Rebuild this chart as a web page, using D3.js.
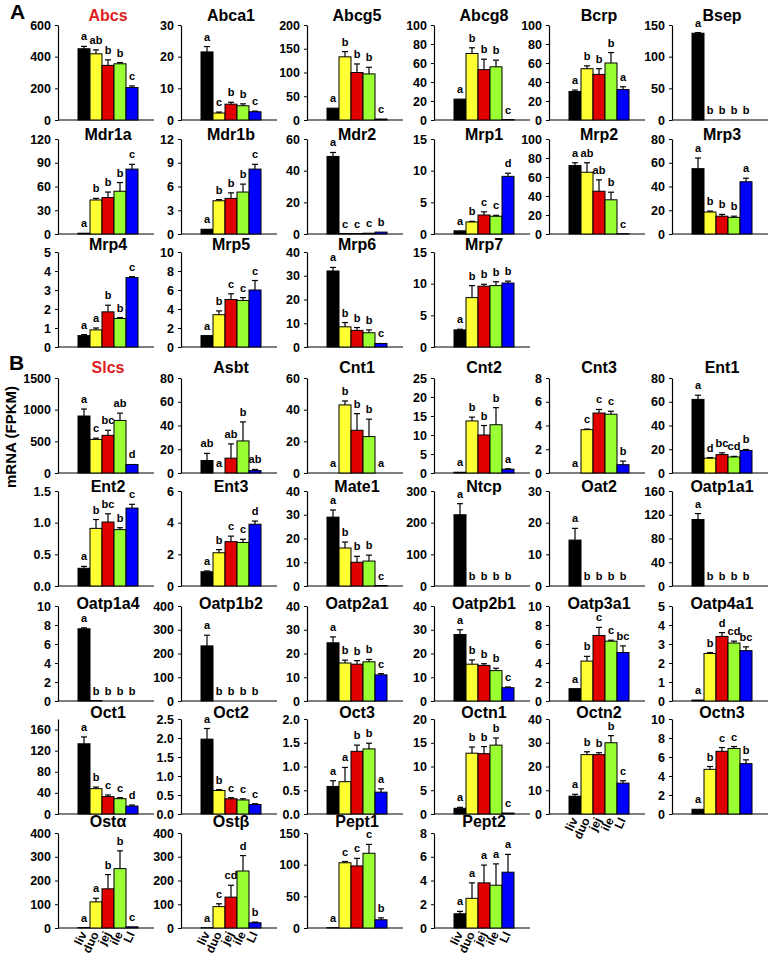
<!DOCTYPE html>
<html><head><meta charset="utf-8">
<script src="https://cdn.jsdelivr.net/npm/d3@7"></script>
<style>body{margin:0;background:#fff} text{font-family:"Liberation Sans",Arial,sans-serif;font-weight:bold}</style>
</head><body><svg id="c" width="774" height="963"></svg>
<script>
const tissues = ["liv","duo","jej","ile","LI"];
const colors = ["#000000","#ffff33","#e00000","#99ff33","#0000ff"];

// Section A: ABC transporters
const genesA = ["Abcs","Abca1","Abcg5","Abcg8","Bcrp","Bsep","Mdr1a","Mdr1b","Mdr2","Mrp1","Mrp2","Mrp3","Mrp4","Mrp5","Mrp6","Mrp7"];
const yMaxA  = [600,30,200,100,100,150,120,12,60,15,100,80,5,10,40,15];
const stepA  = [200,10,50,20,20,50,30,3,20,5,20,20,1,2,10,5];
const meanA = [
  [450,418,345,355,205],[21.5,2.2,5.0,4.5,2.6],[25,133,100,97,2],[22,70,53,56,0.5],
  [30,54,48,60,32],[137,0,0,0,0],[1,43,46,54,82],[0.6,4.2,4.5,5.3,8.2],
  [49,0.3,0.3,0.5,1.2],[0.5,1.9,3.0,2.8,9.1],[72,65,45,36,0.3],[55,18.5,15,14,44],
  [0.6,0.9,1.85,1.5,3.65],[1.2,3.4,5.0,4.9,6.0],[32,8.5,7,6,1.5],[2.7,7.8,9.6,9.7,10.1]];
const errA = [
  [15,25,35,8,10],[1.7,0.3,0.6,0.6,0.2],[0,11,18,14,0],[0,6,11,7,0],
  [1.5,3,6,11,3],[1,0,0,0,0],[0,2,7,11,6],[0,0.15,0.7,1.0,0.6],
  [2.5,0,0,0,0],[0,0.1,0.5,0.15,0.5],[3,10,12,8,0],[9,0.8,1.5,1,3],
  [0.05,0.1,0.35,0.05,0.05],[0,0.4,0.6,0.3,1.0],[1.5,1.8,1.2,1.2,0],[0.1,1.9,0.3,0.6,0.3]];
const letA = [
  ["a","ab","b","b","c"],["a","c","b","b","c"],["a","b","b","b","c"],["a","b","b","b","c"],
  ["a","b","b","b","a"],["a","b","b","b","b"],["a","b","b","b","c"],["a","b","b","b","c"],
  ["a","c","c","c","b"],["a","b","c","c","d"],["a","ab","ab","b","c"],["a","b","b","b","a"],
  ["a","a","b","b","c"],["a","b","c","c","c"],["a","b","b","b","c"],["a","b","b","b","b"]];

// Section B: SLC transporters
const genesB = ["Slcs","Asbt","Cnt1","Cnt2","Cnt3","Ent1","Ent2","Ent3","Mate1","Ntcp","Oat2","Oatp1a1",
  "Oatp1a4","Oatp1b2","Oatp2a1","Oatp2b1","Oatp3a1","Oatp4a1","Oct1","Oct2","Oct3","Octn1","Octn2","Octn3",
  "Ostα","Ostβ","Pept1","Pept2"];
const yMaxB = [1500,80,60,25,8,80, 1.5,6,40,300,30,160, 10,400,40,40,10,5, 180,2.5,2.0,20,40,10, 400,400,150,8];
const stepB = [500,20,20,5,2,20, 0.5,2,10,100,10,40, 2,100,10,10,2,1, 40,0.5,0.5,5,10,2, 100,100,50,2];
const meanB = [
  [900,530,595,830,135],[10.5,0,12.5,27,2],[0,43,27,23,0],[0.2,13.7,10,12.7,1],[0,3.65,5.05,4.95,0.7],[62,12.5,15.5,13.5,19],
  [0.28,0.91,1.01,0.89,1.23],[0.9,2.1,2.8,2.75,3.9],[29,16,10,10.5,0.2],[225,0,0,0,0],[14.5,0,0,0,0],[112,0,0,0,0],
  [7.6,0.05,0,0,0],[232,0,0,0,0],[24.5,16,15.5,16.5,11],[28,15.5,15,12.8,5.6],[1.3,4.2,6.9,6.3,5.1],[0.05,2.5,3.4,3.05,2.65],
  [133,48,33,29,15],[1.97,0.62,0.4,0.37,0.25],[0.58,0.68,1.32,1.37,0.46],[1.2,12.8,12.7,14.5,0.2],[7.5,25,25,30,13],[0.5,4.7,6.6,6.9,5.3],
  [2,110,165,250,5],[1,90,130,240,22],[0.5,103,98,118,13],[1.2,2.5,3.8,3.6,4.7]];
const errB = [
  [110,20,80,115,0],[6,0,12,16,1],[0,2.5,10.5,11,0],[0,1,2.5,4.5,0.1],[0,0.05,0.3,0.25,0.3],[3.5,0.5,1.5,0.5,0.8],
  [0.03,0.14,0.13,0.03,0.06],[0.05,0.2,0.35,0.2,0.2],[3,2.5,2.5,2.5,0],[35,0,0,0,0],[3.7,0,0,0,0],[10,0,0,0,0],
  [0.1,0,0,0,0],[45,0,0,0,0],[2.5,1.2,1.5,1,0.5],[2,1.8,0.7,1,0.3],[0,0.5,0.85,0.1,0.7],[0,0.05,0.2,0.1,0.2],
  [13,3,3,2,2],[0.28,0.02,0.03,0.03,0.02],[0.12,0.3,0.13,0.12,0.07],[0.2,1.3,1.5,1.5,0],[0.8,1.2,0.8,3,1],[0,0.3,0.4,0.2,0.4],
  [0,15,60,75,0],[0,12,50,65,3],[0,2,12,14,3],[0.2,1.3,1.5,1.8,1.5]];
const letB = [
  ["a","c","bc","ab","d"],["ab","a","ab","b","ab"],["a","b","b","b","a"],["a","b","b","b","a"],["a","c","c","c","b"],["a","d","bc","cd","b"],
  ["a","b","bc","b","c"],["a","b","c","c","d"],["a","b","b","b","c"],["a","b","b","b","b"],["a","b","b","b","b"],["a","b","b","b","b"],
  ["a","b","b","b","b"],["a","b","b","b","b"],["a","b","b","b","c"],["a","b","b","b","c"],["a","b","c","c","bc"],["a","b","d","cd","bc"],
  ["a","b","c","c","d"],["a","b","c","c","c"],["a","a","b","b","a"],["a","b","b","b","c"],["a","b","b","b","c"],["a","b","c","c","b"],
  ["a","a","b","b","c"],["a","c","cd","d","b"],["a","c","c","c","b"],["a","a","a","a","a"]];
const redTitles = ["Abcs","Slcs"];
const xLabelPanels = ["Octn2","Ostα","Ostβ","Pept2"];

const svg = d3.select("#c");
const colX = [58,181,307,434,549,672];
const rowsA = [25,139,252], rowsB = [378,491,606,719,833];
const titleA = [21,140,250], titleB = [373,492,609,718,827];
const H = 95;

function panel(gx, top, titleY, name, ymax, step, mean, err, lets) {
  const g = svg.append("g");
  const x = d3.scaleBand().domain(tissues).range([gx+20, gx+80]).padding(0);
  const y = d3.scaleLinear().domain([0, ymax]).range([top+H, top]);
  const ticks = d3.range(0, ymax + step*1e-6, step).filter(v => v <= ymax + 1e-9);
  const fmt = step < 1 ? d3.format(".1f") : d3.format("d");
  const ax = g.append("g").attr("transform", `translate(${gx},0)`)
    .call(d3.axisLeft(y).tickValues(ticks).tickFormat(fmt).tickSize(3).tickSizeOuter(0).tickPadding(4));
  ax.selectAll("text").style("font-size","12.5px").attr("fill","#000");
  ax.select(".domain").attr("stroke","#000").attr("stroke-width",1.2);
  ax.selectAll(".tick line").attr("stroke","#000");
  g.append("line").attr("x1",gx).attr("x2",gx+96).attr("y1",y(0)).attr("y2",y(0))
    .attr("stroke","#000").attr("stroke-width",1.2);
  tissues.forEach((t,i) => {
    const v = mean[i], e = err[i];
    if (v > 0) {
      g.append("rect").attr("x", x(t)).attr("width", x.bandwidth()).attr("y", y(v))
        .attr("height", y(0)-y(v)).attr("fill", colors[i]).attr("stroke","#000").attr("stroke-width",1);
    }
    const cx = x(t) + x.bandwidth()/2;
    if (e > 0) {
      g.append("line").attr("x1",cx).attr("x2",cx).attr("y1",y(v)).attr("y2",y(v+e)).attr("stroke","#000").attr("stroke-width",1.2);
      g.append("line").attr("x1",cx-3).attr("x2",cx+3).attr("y1",y(v+e)).attr("y2",y(v+e)).attr("stroke","#000").attr("stroke-width",1.2);
    }
    g.append("text").attr("x",cx).attr("y", y(v+e)-6).attr("text-anchor","middle")
      .style("font-size","11px").text(lets[i]);
  });
  g.append("text").attr("x", gx+50).attr("y", titleY).attr("text-anchor","middle")
    .style("font-size","16px").attr("fill", redTitles.includes(name) ? "#e02020" : "#000").text(name);
  if (xLabelPanels.includes(name)) {
    tissues.forEach(t => {
      const cx = x(t) + x.bandwidth()/2 + 3;
      g.append("text").attr("transform", `translate(${cx},${y(0)+6}) rotate(-65)`)
        .attr("text-anchor","end").style("font-size","12px").text(t);
    });
  }
}

genesA.forEach((n,i) => {
  const r = Math.floor(i/6), c = i%6;
  panel(colX[c], rowsA[r], titleA[r], n, yMaxA[i], stepA[i], meanA[i], errA[i], letA[i]);
});
genesB.forEach((n,i) => {
  const r = Math.floor(i/6), c = i%6;
  panel(colX[c], rowsB[r], titleB[r], n, yMaxB[i], stepB[i], meanB[i], errB[i], letB[i]);
});

svg.append("text").attr("x",10).attr("y",19).style("font-size","21px").text("A");
svg.append("text").attr("x",9).attr("y",370).style("font-size","21px").text("B");
svg.append("text").attr("transform","translate(16,437) rotate(-90)").attr("text-anchor","middle")
  .style("font-size","15px").text("mRNA (FPKM)");
</script></body></html>
